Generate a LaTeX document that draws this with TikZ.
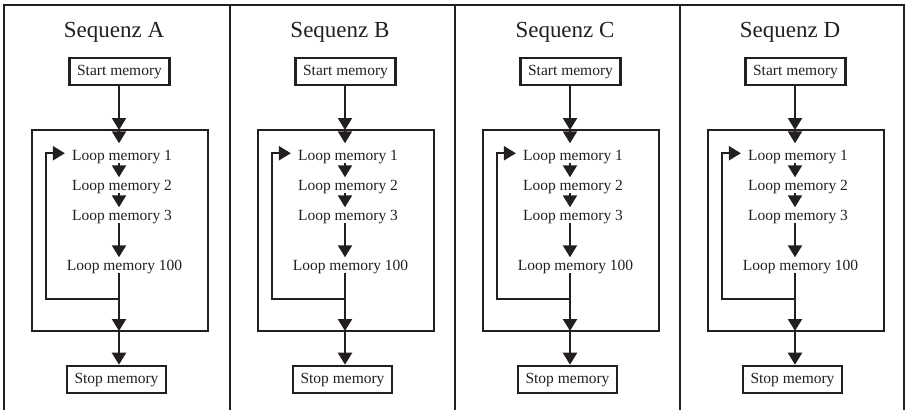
\documentclass[tikz,border=0pt]{standalone}
\usepackage{fontspec}
\setmainfont{Liberation Serif}
\usetikzlibrary{arrows.meta}
\definecolor{ink}{RGB}{35,31,32}
\begin{document}
\begin{tikzpicture}[x=1pt,y=-1pt,
  frame/.style={line width=2pt, draw=ink},
  inbox/.style={line width=2.4pt, draw=ink},
  title/.style={inner sep=0pt, anchor=base, text=ink, font=\fontsize{23}{26}\selectfont},
  box/.style={draw=ink, line width=2.6pt, minimum width=100pt, minimum height=27pt, inner sep=0pt, text=ink,
    font=\fontsize{15.5}{18}\selectfont, text height=10.5pt, text depth=3pt},
  lbl/.style={inner sep=0pt, text=ink, font=\fontsize{15.5}{18}\selectfont, text height=10.5pt, text depth=3pt},
  flow/.style={line width=2.3pt, draw=ink, -{Triangle[length=12pt,width=14pt]}}
]
\useasboundingbox (0,0) rectangle (906,410);
\draw[frame] (4,410) -- (4,5) -- (904,5) -- (904,410);
\foreach \x in {230,455,680} \draw[frame] (\x,5) -- (\x,410);
\foreach \off/\L in {4/A,230/B,455/C,680/D}{
\begin{scope}[xshift=\off pt]
  \node[title] (t\L) at (110,37) {Sequenz \L};
  \node[box] (s\L) at (115.5,71.5) {Start memory};
  \coordinate (top\L) at (115,130);
  \coordinate (bot\L) at (115,331);
  \coordinate (fbj\L) at (115,299);
  \coordinate (fbl\L) at (42,299);
  \draw[inbox] (28,130) rectangle (204,331);
  \node[lbl] (la\L) at (118,156.25) {Loop memory 1};
  \node[lbl] (lb\L) at (118,186.25) {Loop memory 2};
  \node[lbl] (lc\L) at (118,216.25) {Loop memory 3};
  \node[lbl] (ld\L) at (120.5,266.25) {Loop memory 100};
  \node[box, minimum width=99pt] (e\L) at (112.5,379.5) {Stop memory};
  \draw[flow] (s\L.south -| top\L) -- (top\L);
  \draw[flow, shorten >=6pt] (top\L) -- (la\L.north -| top\L);
  \draw[flow, shorten >=2pt] (la\L.south -| top\L) -- (lb\L.north -| top\L);
  \draw[flow, shorten >=2pt] (lb\L.south -| top\L) -- (lc\L.north -| top\L);
  \draw[flow, shorten >=2pt] (lc\L.south -| top\L) -- (ld\L.north -| top\L);
  \draw[flow] (ld\L.south -| top\L) -- (bot\L);
  \draw[flow] (fbj\L) -- (fbl\L) |- ([xshift=-7pt,yshift=3pt]la\L.west);
  \draw[flow] (bot\L) -- (e\L.north -| top\L);
\end{scope}}
\end{tikzpicture}
\end{document}
